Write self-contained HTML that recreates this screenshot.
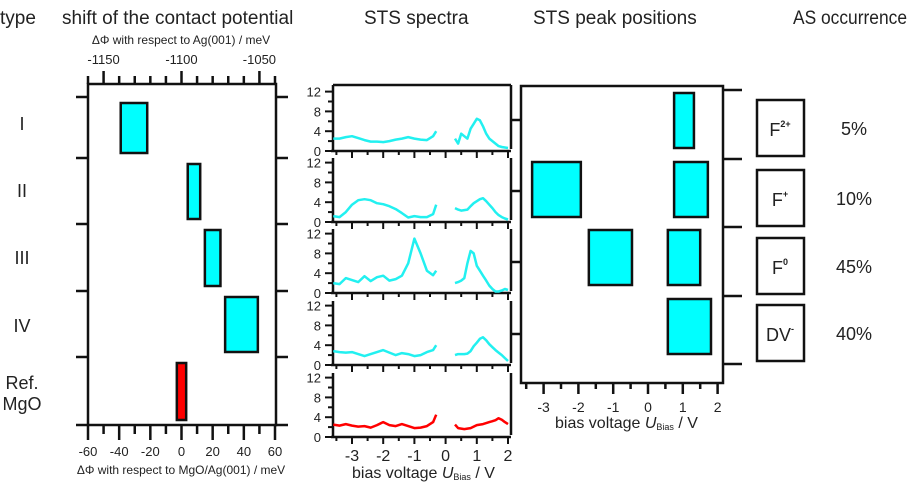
<!DOCTYPE html>
<html><head><meta charset="utf-8"><style>
body{margin:0;background:#fff;}
svg{display:block;font-family:"Liberation Sans",Arial,sans-serif;}
</style></head><body>
<svg id="chart" width="907" height="483" viewBox="0 0 907 483" xmlns="http://www.w3.org/2000/svg">
<g font-size="19" fill="#222">
<text x="0" y="24">type</text>
<text x="62" y="24">shift of the contact potential</text>
<text x="364" y="24">STS spectra</text>
<text x="533" y="24">STS peak positions</text>
<text x="793" y="24" textLength="114" lengthAdjust="spacingAndGlyphs">AS occurrence</text>
</g>
<g font-size="18" fill="#222" text-anchor="middle">
<text x="22" y="130">I</text>
<text x="22" y="197">II</text>
<text x="22" y="264">III</text>
<text x="22" y="332">IV</text>
<text x="22" y="389">Ref.</text>
<text x="22" y="410">MgO</text>
</g>
<g id="left"></g>
<g id="sts"></g>
<g id="peaks"></g>
<g id="occ"></g>
</svg>
<script>
// contact potential data (meV wrt MgO/Ag(001)) : [min,max]
const cpTypes = ["I","II","III","IV","Ref"];
const cpMin = [-39, 4, 15, 28, -3];
const cpMax = [-22, 12, 25, 49, 3];
const cpTicks = [-60,-40,-20,0,20,40,60];
const cpTopTicks = [-1150,-1100,-1050];
// STS spectra
const stsXneg = [-3.6,-3.4,-3.2,-3.0,-2.8,-2.6,-2.4,-2.2,-2.0,-1.8,-1.6,-1.4,-1.2,-1.0,-0.8,-0.6,-0.4,-0.3];
const sts1neg = [2.5,2.5,2.8,3.0,2.6,2.2,1.9,1.9,1.8,2.0,2.3,2.5,2.8,2.5,2.3,2.2,3.0,4.0];
const sts2neg = [1.2,1.0,2.0,3.5,4.4,4.6,4.4,3.8,3.6,3.2,2.6,1.8,0.9,1.2,1.0,1.0,1.6,3.5];
const sts3neg = [2.0,1.8,3.0,2.6,2.2,3.4,2.4,3.2,3.5,2.5,2.8,3.5,6.0,11.0,8.0,4.5,3.6,4.5];
const sts4neg = [2.8,2.6,2.5,2.6,2.2,1.8,2.2,2.6,3.0,2.5,2.0,2.4,2.2,1.8,2.0,2.6,3.0,4.0];
const sts5neg = [2.5,2.3,2.6,2.3,2.1,2.2,1.9,2.4,3.0,2.4,2.2,2.6,2.2,1.8,1.9,2.2,3.0,4.5];
const stsXpos = [0.3,0.4,0.5,0.6,0.7,0.8,0.9,1.0,1.1,1.2,1.3,1.4,1.5,1.6,1.7,1.8,1.9,2.0];
const sts1pos = [2.5,1.5,3.5,3.0,2.5,4.5,5.5,6.5,6.2,5.0,3.5,2.5,2.0,1.5,1.0,0.8,0.7,0.6];
const sts2pos = [2.8,2.5,2.3,2.4,2.5,3.2,3.8,4.2,4.6,4.8,4.2,3.5,2.8,2.0,1.4,1.0,0.7,0.5];
const sts3pos = [2.0,2.2,2.5,3.0,6.0,8.5,8.0,5.5,4.5,3.5,2.5,1.5,0.8,0.3,0.3,0.5,0.8,0.6];
const sts4pos = [2.0,2.2,2.2,2.2,2.3,2.8,3.8,4.5,5.3,5.6,5.0,4.2,3.6,3.0,2.5,2.0,1.4,0.8];
const sts5pos = [2.5,1.8,1.7,1.6,1.7,1.8,2.1,2.4,2.5,2.6,2.8,3.0,3.2,3.4,3.8,3.5,3.0,2.6];
const stsYTicks = [0,4,8,12];
const stsXTicks = [-3,-2,-1,0,1,2];
// peak positions (V) per row: [min,max]
const pkRow = [0,1,1,2,2,3];
const pkMin = [0.75,-3.33,0.75,-1.7,0.57,0.57];
const pkMax = [1.32,-1.93,1.72,-0.46,1.5,1.81];
const pkTicks = [-3,-2,-1,0,1,2];
// occurrence
const occLabels = ["F","F","F","DV"];
const occSup = ["2+","+","0","-"];
const occPct = ["5%","10%","45%","40%"];

const NS="http://www.w3.org/2000/svg";
function mk(parent,tag,attrs,txt){const e=document.createElementNS(NS,tag);for(const k in attrs)e.setAttribute(k,attrs[k]);if(txt!==undefined)e.textContent=txt;parent.appendChild(e);return e;}
const S="#111";

// ---------- left panel ----------
const L=document.getElementById('left');
const cpX=v=>181.5+v*1.5583;
const rowB=[97,158,224,291,357,425];
const rowY=i=>[rowB[i],rowB[i+1]];
mk(L,'rect',{x:88,y:84,width:188,height:341,fill:'none',stroke:S,'stroke-width':2.5});
for(let i=0;i<rowB.length;i++){
  const t=mk(L,'line',{x1:76,x2:88,y1:rowB[i],y2:rowB[i],stroke:S,'stroke-width':2.5});
  
  mk(L,'line',{x1:276,x2:288,y1:rowB[i],y2:rowB[i],stroke:S,'stroke-width':2.5});
}
for(let v=-60;v<=60;v+=10){
  const x=cpX(v);
  mk(L,'line',{x1:x,x2:x,y1:425,y2:v%20===0?440:434,stroke:S,'stroke-width':2.5});
  mk(L,'line',{x1:x,x2:x,y1:84,y2:(v+1100)%50===0?71:76,stroke:S,'stroke-width':2.5});
}
cpTicks.forEach(v=>{const t=mk(L,'text',{x:cpX(v),y:456,'font-size':13,'text-anchor':'middle',fill:'#222'},v);
  });
cpTopTicks.forEach(v=>{const t=mk(L,'text',{x:cpX(v+1100),y:64,'font-size':13,'text-anchor':'middle',fill:'#222'},v);
  });
mk(L,'text',{x:181,y:44,'font-size':12,'text-anchor':'middle',fill:'#222',},'ΔΦ with respect to Ag(001) / meV');
mk(L,'text',{x:181,y:474,'font-size':12,'text-anchor':'middle',fill:'#222',},'ΔΦ with respect to MgO/Ag(001) / meV');
cpTypes.forEach((t,i)=>{
  const [a,b]=rowY(i);
  const r=mk(L,'rect',{x:cpX(cpMin[i]),y:a+6,width:cpX(cpMax[i])-cpX(cpMin[i]),height:b-a-11,fill:i===4?'#ff0000':'#00ffff',stroke:S,'stroke-width':2.5});
  
  
});

// ---------- STS spectra ----------
const G=document.getElementById('sts');
const sx=v=>352+(v+3)*31.2;
const zeros=[151,222,293,365,437];
const negs=[sts1neg,sts2neg,sts3neg,sts4neg,sts5neg];
const poss=[sts1pos,sts2pos,sts3pos,sts4pos,sts5pos];
for(let p=0;p<5;p++){
  const y0=zeros[p];
  const sy=v=>y0-v*4.95;
  const top=p===0?85:y0-64;
  mk(G,'line',{x1:333,x2:333,y1:top,y2:y0+1,stroke:S,'stroke-width':2.5});
  mk(G,'line',{x1:511,x2:511,y1:top,y2:y0-2,stroke:S,'stroke-width':2.5});
  if(p===0) mk(G,'line',{x1:333,x2:511,y1:85,y2:85,stroke:S,'stroke-width':2.5});
  mk(G,'line',{x1:331,x2:511,y1:y0,y2:y0,stroke:S,'stroke-width':2.5});
  for(let v=0;v<=12;v+=2){mk(G,'line',{x1:v%4===0?325:328,x2:333,y1:sy(v),y2:sy(v),stroke:S,'stroke-width':2});}
  stsYTicks.forEach(v=>{const t=mk(G,'text',{x:321,y:sy(v)+5,'font-size':13,'text-anchor':'end',fill:'#222'},v);
    });
  for(let v=-3.5;v<=2.01;v+=0.5){const x=sx(v);mk(G,'line',{x1:x,x2:x,y1:y0,y2:y0+(Math.abs(v%1)<0.01?7:4),stroke:S,'stroke-width':2});}
  const col=p===4?'#ff0000':'#22f0f0';
  const d1=stsXneg.map((v,i)=>(i?'L':'M')+sx(v).toFixed(1)+','+sy(negs[p][i]).toFixed(1)).join('');
  const d2=stsXpos.map((v,i)=>(i?'L':'M')+sx(v).toFixed(1)+','+sy(poss[p][i]).toFixed(1)).join('');
  const l1=mk(G,'path',{d:d1,fill:'none',stroke:col,'stroke-width':2.5,'stroke-linejoin':'round'});
  
  
  const l2=mk(G,'path',{d:d2,fill:'none',stroke:col,'stroke-width':2.5,'stroke-linejoin':'round'});
  
  
  if(p<4){mk(G,'line',{x1:511,x2:521,y1:y0-31,y2:y0-31,stroke:S,'stroke-width':2.5});}
}
stsXTicks.forEach(v=>{const t=mk(G,'text',{x:sx(v),y:461,'font-size':16,'text-anchor':'middle',fill:'#222'},v);
  });
const xt=mk(G,'text',{x:352,y:478,'font-size':16,fill:'#222',});
xt.innerHTML='bias voltage <tspan font-style="italic">U</tspan><tspan font-size="9" dy="2">Bias</tspan><tspan dy="-2"> / V</tspan>';

// ---------- peak positions ----------
const P=document.getElementById('peaks');
const px=v=>648+v*34.8;
const pb=[90,159,227,296,364];
mk(P,'rect',{x:521,y:86,width:202,height:297,fill:'none',stroke:S,'stroke-width':2.5});
pb.forEach(y=>mk(P,'line',{x1:723,x2:742,y1:y,y2:y,stroke:S,'stroke-width':2.5}));
for(let v=-3.5;v<=2.01;v+=0.5){const x=px(v);mk(P,'line',{x1:x,x2:x,y1:383,y2:383+(Math.abs(v%1)<0.01?11:6),stroke:S,'stroke-width':2.5});}
pkTicks.forEach(v=>{const t=mk(P,'text',{x:px(v),y:412,'font-size':14,'text-anchor':'middle',fill:'#222'},v);
  });
const pt=mk(P,'text',{x:555,y:428,'font-size':16,fill:'#222',});
pt.innerHTML='bias voltage <tspan font-style="italic">U</tspan><tspan font-size="9" dy="2">Bias</tspan><tspan dy="-2"> / V</tspan>';
pkRow.forEach((r,i)=>{
  const a=pb[r];
  const b=mk(P,'rect',{x:px(pkMin[i]),y:a+3,width:px(pkMax[i])-px(pkMin[i]),height:55,fill:'#00ffff',stroke:S,'stroke-width':2.5});
  
  
});

// ---------- occurrence ----------
const O=document.getElementById('occ');
const oy=[100,170,238,305];
occLabels.forEach((l,i)=>{
  const r=mk(O,'rect',{x:757,y:oy[i],width:47,height:56,fill:'#fff',stroke:S,'stroke-width':2.5});
  
  
  const t=mk(O,'text',{x:780,y:oy[i]+36,'font-size':18,'text-anchor':'middle',fill:'#222'});
  t.innerHTML=l+'<tspan font-size="9" dy="-9" font-weight="bold">'+occSup[i]+'</tspan>';
  
  
  const q=mk(O,'text',{x:854,y:oy[i]+35,'font-size':18,'text-anchor':'middle',fill:'#222'},occPct[i]);
  
  
});
</script>
</body></html>
